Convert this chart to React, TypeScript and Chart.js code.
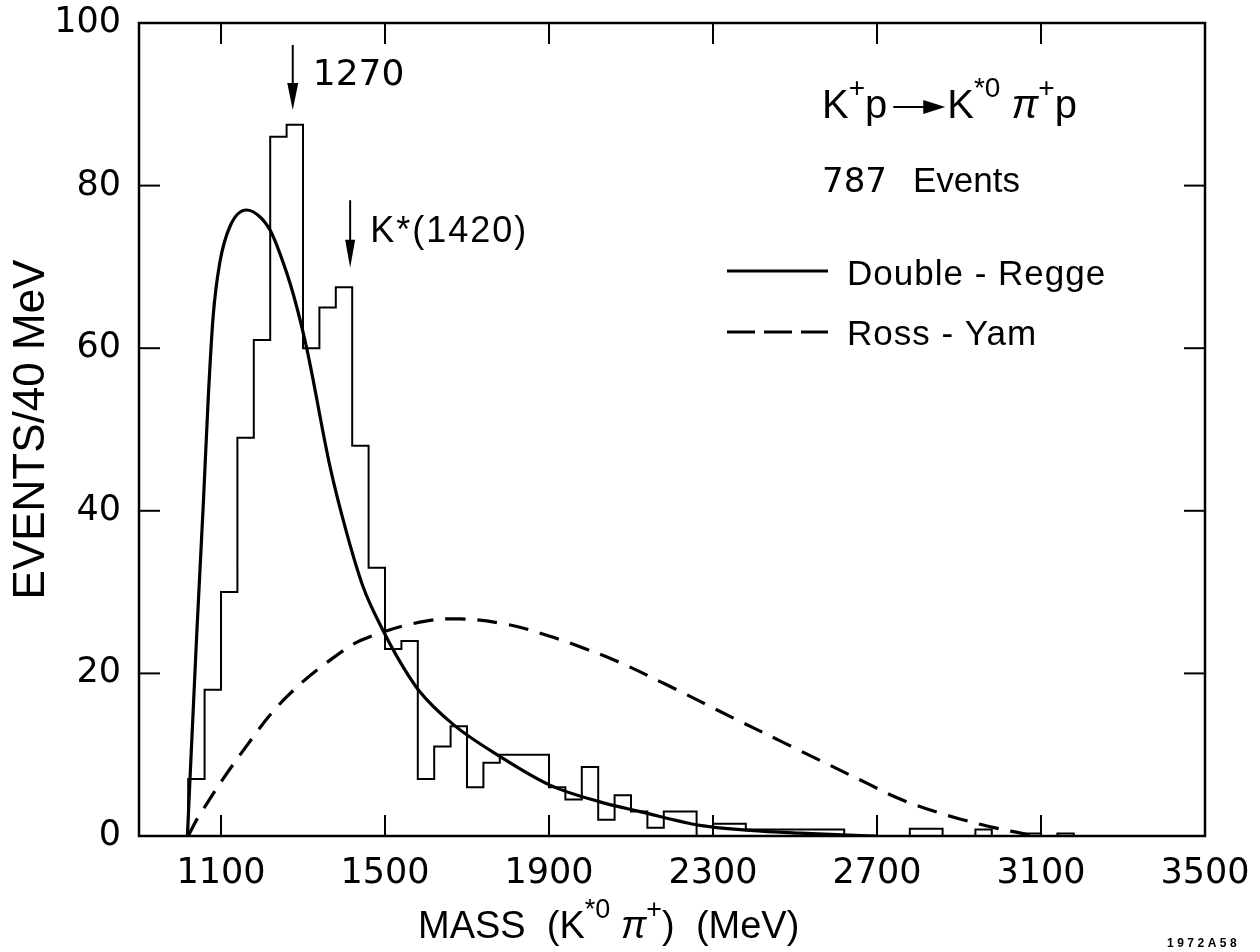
import React, { useEffect, useRef } from "react";
import { Chart, registerables } from "chart.js";

Chart.register(...registerables);

// ---------- data ----------
const X_MIN = 900;
const X_MAX = 3500;
const Y_MIN = 0;
const Y_MAX = 100;

const xTickValues = [1100, 1500, 1900, 2300, 2700, 3100, 3500];
const innerTickX = [1100, 1500, 1900, 2300, 2700, 3100];
const innerTickY = [20, 40, 60, 80];

// histogram: 40 MeV bins starting at 1020 MeV
const BIN_START = 1020;
const BIN_WIDTH = 40;
const histCounts = [
  7, 18, 30, 49, 61, 86, 87.5, 60, 65, 67.5,
  48, 33, 23, 24, 7, 11, 13.5, 6, 9, 10,
  10, 10, 6, 4.5, 8.5, 2, 5, 3, 1, 3,
  3, 0, 1.5, 1.5, 0.8, 0.8, 0.8, 0.8, 0.8, 0.8,
  0, 0, 0, 0, 0.9, 0.9, 0, 0, 0.8, 0,
  0, 0.3, 0, 0.3, 0,
];

// Double-Regge curve (solid)
const dreggeMass = [1018, 1041, 1057, 1069, 1081, 1097, 1122, 1162, 1192, 1220, 1244, 1276, 1309, 1366, 1407, 1447, 1490, 1530, 1581, 1667, 1780, 1905, 2024, 2122, 2268, 2390, 2512, 2630, 2700];
const dreggeVal = [0, 25, 41, 54, 64, 70.5, 75, 77, 76.3, 74.5, 71.6, 66.7, 60, 45.4, 37.2, 30.6, 25.8, 22, 18, 13.7, 9.8, 6.2, 4.2, 3.0, 1.3, 0.7, 0.35, 0.1, 0];

// Ross-Yam curve (dashed)
const rossMass = [1020, 1049, 1154, 1260, 1398, 1463, 1585, 1683, 1800, 1900, 1990, 2070, 2187, 2350, 2460, 2512, 2675, 2749, 2824, 2902, 2988, 3056, 3080];
const rossVal = [0, 2.7, 10.5, 17.1, 22.8, 24.5, 26.3, 26.7, 26, 24.6, 23, 21.4, 18.6, 14.5, 11.8, 10.5, 6.5, 4.7, 3.3, 2.1, 1.0, 0.3, 0];

// annotation anchors (mass, top value, tip value)
const arrow1270 = { mass: 1275, top: 97.3, tip: 89.3, label: "1270" };
const arrowK1420 = { mass: 1415, top: 78.2, tip: 69.9, label: "K*(1420)" };

const WORD_FONT = '"Liberation Sans", Arial, sans-serif';
const DIGIT_FONT = '"DejaVu Sans", sans-serif';

function drawRich(
  ctx: CanvasRenderingContext2D,
  parts: { t: string; sup?: boolean; it?: boolean }[],
  x: number,
  y: number,
  size: number
) {
  let cx = x;
  for (const p of parts) {
    const s = p.sup ? Math.round(size * 0.7) : size;
    ctx.font = `${p.it ? "italic " : ""}${s}px ${WORD_FONT}`;
    const dy = p.sup ? -size * 0.52 : 0;
    ctx.fillText(p.t, cx, y + dy);
    cx += ctx.measureText(p.t).width;
  }
  return cx;
}

function downArrow(ctx: CanvasRenderingContext2D, x: number, y0: number, y1: number, headLen: number, headW: number) {
  ctx.beginPath();
  ctx.moveTo(x, y0);
  ctx.lineTo(x, y1 - headLen + 2);
  ctx.lineWidth = 2;
  ctx.stroke();
  ctx.beginPath();
  ctx.moveTo(x - headW / 2, y1 - headLen);
  ctx.lineTo(x + headW / 2, y1 - headLen);
  ctx.lineTo(x, y1);
  ctx.closePath();
  ctx.fill();
}

const decorPlugin = {
  id: "decor",
  afterDatasetsDraw(chart: any) {
    const { ctx, chartArea: a, scales } = chart;
    const xs = scales.x;
    const ys = scales.y;
    ctx.save();
    ctx.strokeStyle = "#000";
    ctx.fillStyle = "#000";
    ctx.lineCap = "butt";

    // frame
    ctx.lineWidth = 2.5;
    ctx.strokeRect(a.left, a.top, a.right - a.left, a.bottom - a.top);

    // inner ticks
    ctx.lineWidth = 2;
    const line = (x0: number, y0: number, x1: number, y1: number) => {
      ctx.beginPath();
      ctx.moveTo(x0, y0);
      ctx.lineTo(x1, y1);
      ctx.stroke();
    };
    for (const v of innerTickX) {
      const px = xs.getPixelForValue(v);
      line(px, a.bottom, px, a.bottom - 21);
      line(px, a.top, px, a.top + 21);
    }
    for (const v of innerTickY) {
      const py = ys.getPixelForValue(v);
      line(a.left, py, a.left + 21, py);
      line(a.right, py, a.right - 21, py);
    }

    // arrows + labels
    ctx.textBaseline = "alphabetic";
    ctx.textAlign = "left";
    {
      const x = xs.getPixelForValue(arrow1270.mass);
      const y0 = ys.getPixelForValue(arrow1270.top);
      const y1 = ys.getPixelForValue(arrow1270.tip);
      downArrow(ctx, x, y0, y1, 27, 11);
      ctx.font = `36px ${DIGIT_FONT}`;
      ctx.fillText(arrow1270.label, x + 20, y0 + 40);
    }
    {
      const x = xs.getPixelForValue(arrowK1420.mass);
      const y0 = ys.getPixelForValue(arrowK1420.top);
      const y1 = ys.getPixelForValue(arrowK1420.tip);
      downArrow(ctx, x, y0, y1, 28, 10);
      ctx.font = `36px ${WORD_FONT}`;
      (ctx as any).letterSpacing = "2px";
      ctx.fillText(arrowK1420.label, x + 20, y0 + 42);
      (ctx as any).letterSpacing = "0px";
    }

    // header reaction
    let cx = drawRich(ctx, [{ t: "K" }, { t: "+", sup: true }, { t: "p" }], 822, 118, 40);
    const ax0 = cx + 6;
    const ax1 = ax0 + 52;
    ctx.lineWidth = 2;
    line(ax0, 107, ax1 - 18, 107);
    ctx.beginPath();
    ctx.moveTo(ax1 - 22, 100);
    ctx.lineTo(ax1, 107);
    ctx.lineTo(ax1 - 22, 114);
    ctx.closePath();
    ctx.fill();
    drawRich(
      ctx,
      [{ t: "K" }, { t: "*0", sup: true }, { t: " " }, { t: "π", it: true }, { t: "+", sup: true }, { t: "p" }],
      ax1 + 2,
      118,
      40
    );

    // events count
    ctx.font = `34px ${DIGIT_FONT}`;
    ctx.fillText("787", 822, 192);
    ctx.font = `35px ${WORD_FONT}`;
    ctx.fillText("Events", 913, 192);

    // legend
    const ds = chart.data.datasets;
    const legendRows = [
      { ds: ds[1], y: 271, ty: 285 },
      { ds: ds[2], y: 332, ty: 345 },
    ];
    for (const r of legendRows) {
      ctx.save();
      ctx.lineWidth = r.ds.borderWidth;
      ctx.setLineDash(r.ds.borderDash ? [28, 9] : []);
      line(727, r.y, 828, r.y);
      ctx.restore();
      ctx.font = `35px ${WORD_FONT}`;
      (ctx as any).letterSpacing = "1px";
      ctx.fillText(r.ds.label, 847, r.ty);
      (ctx as any).letterSpacing = "0px";
    }

    // x-axis title with superscripts
    drawRich(
      ctx,
      [
        { t: "MASS  (K" },
        { t: "*0", sup: true },
        { t: " " },
        { t: "π", it: true },
        { t: "+", sup: true },
        { t: ")  (MeV)" },
      ],
      418,
      938,
      38
    );

    // figure id
    ctx.font = `bold 12px ${WORD_FONT}`;
    (ctx as any).letterSpacing = "3.5px";
    ctx.fillText("1972A58", 1167, 947);
    (ctx as any).letterSpacing = "0px";

    ctx.restore();
  },
};

export default function App() {
  const ref = useRef<HTMLCanvasElement>(null);

  useEffect(() => {
    const canvas = ref.current;
    if (!canvas) return;

    const histPoints = [
      { x: BIN_START, y: 0 },
      ...histCounts.map((c, i) => ({ x: BIN_START + i * BIN_WIDTH, y: c })),
      { x: BIN_START + histCounts.length * BIN_WIDTH, y: 0 },
    ];
    const dregge = dreggeMass.map((m, i) => ({ x: m, y: dreggeVal[i] }));
    const ross = rossMass.map((m, i) => ({ x: m, y: rossVal[i] }));

    const chart = new Chart(canvas, {
      type: "line",
      data: {
        datasets: [
          {
            label: "Events",
            data: histPoints,
            stepped: true,
            borderColor: "#000",
            borderWidth: 2,
            pointRadius: 0,
            fill: false,
          },
          {
            label: "Double - Regge",
            data: dregge,
            borderColor: "#000",
            borderWidth: 3.2,
            pointRadius: 0,
            fill: false,
            cubicInterpolationMode: "monotone",
          },
          {
            label: "Ross - Yam",
            data: ross,
            borderColor: "#000",
            borderWidth: 3.2,
            borderDash: [20, 12],
            pointRadius: 0,
            fill: false,
            tension: 0.4,
          },
        ],
      } as any,
      options: {
        responsive: false,
        animation: false,
        devicePixelRatio: 1,
        layout: { padding: { top: 23, right: 55, bottom: 0, left: 0 } },
        plugins: {
          legend: { display: false },
          tooltip: { enabled: false },
        },
        scales: {
          x: {
            type: "linear",
            min: X_MIN,
            max: X_MAX,
            grid: { display: false, drawTicks: false },
            border: { display: false },
            afterBuildTicks: (s: any) => {
              s.ticks = xTickValues.map((v) => ({ value: v }));
            },
            afterFit: (s: any) => {
              s.height = 116;
              s.paddingLeft = 0;
              s.paddingRight = 0;
            },
            ticks: {
              autoSkip: false,
              maxRotation: 0,
              padding: 17,
              color: "#000",
              font: { family: DIGIT_FONT, size: 35 },
              callback: (v: any) => String(v),
            },
          },
          y: {
            min: Y_MIN,
            max: Y_MAX,
            grid: { display: false, drawTicks: false },
            border: { display: false },
            afterFit: (s: any) => {
              s.width = 139;
              s.paddingTop = 0;
              s.paddingBottom = 0;
            },
            ticks: {
              stepSize: 20,
              padding: 18,
              color: "#000",
              font: { family: DIGIT_FONT, size: 35 },
              callback: (v: any) => String(v),
            },
            title: {
              display: true,
              text: "EVENTS/40 MeV",
              color: "#000",
              font: { family: WORD_FONT, size: 44 },
              padding: { top: 5, bottom: 0 },
            },
          },
        },
      } as any,
      plugins: [decorPlugin],
    });

    return () => chart.destroy();
  }, []);

  return (
    <div style={{ position: "absolute", left: 0, top: 0, width: 1260, height: 952, background: "#fff" }}>
      <canvas ref={ref} width={1260} height={952} style={{ display: "block" }} />
    </div>
  );
}
